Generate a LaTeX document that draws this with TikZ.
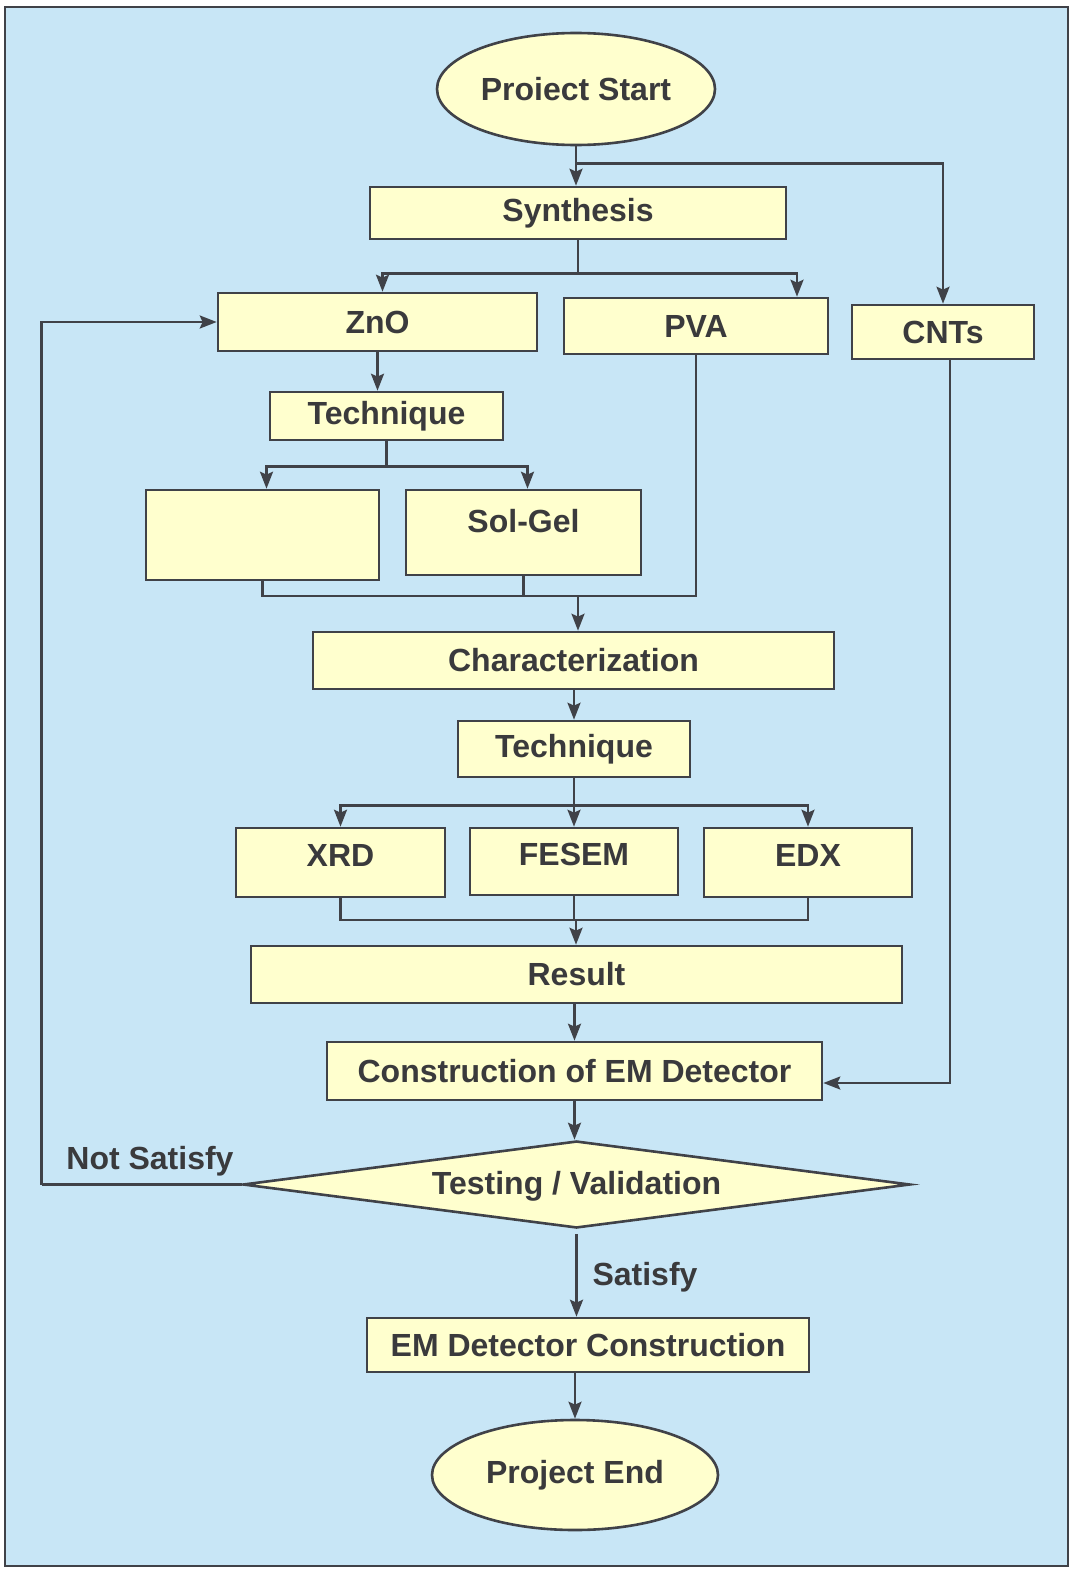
\documentclass[tikz,border=0pt]{standalone}
\usepackage{fontspec}
\setmainfont{Liberation Sans}
\usetikzlibrary{shapes.geometric,arrows.meta}

\definecolor{bgblue}{RGB}{200,230,246}
\definecolor{boxfill}{RGB}{255,255,206}
\definecolor{linegray}{RGB}{64,66,72}
\definecolor{txtgray}{RGB}{58,58,60}

\begin{document}
\begin{tikzpicture}[x=1pt, y=-1pt, line width=2.6pt, color=linegray,
    >={Stealth[length=17pt,width=13pt,inset=3pt]},
    box/.style={draw=linegray, fill=boxfill, inner sep=0pt, line width=2.6pt,
      font=\fontsize{32}{38}\selectfont\bfseries, text=txtgray},
    oval/.style={box, ellipse},
    decide/.style={box, diamond, aspect=7.6},
    note/.style={font=\fontsize{32}{38}\selectfont\bfseries, text=txtgray, inner sep=0pt}]
    \useasboundingbox (0,0) rectangle (1073,1571);
    \fill[white] (0,0) rectangle (1073,1571);
    \draw[fill=bgblue, line width=1.5pt] (5,7) rectangle (1068,1566);

    % blocks
    \node[oval, minimum width=278pt, minimum height=112pt] (start) at (576,89) {Proiect Start};
    \node[box, minimum width=416pt, minimum height=52pt] (synth) at (578,213) {Synthesis};
    \node[box, minimum width=319pt, minimum height=58pt] (zno) at (377.5,322) {ZnO};
    \node[box, minimum width=264pt, minimum height=56pt] (pva) at (696,326) {PVA};
    \node[box, minimum width=182pt, minimum height=54pt] (cnts) at (943,332) {CNTs};
    \node[box, minimum width=233pt, minimum height=48pt] (techA) at (386.5,416) {Technique};
    \node[box, minimum width=233pt, minimum height=90pt] (blank) at (262.5,535) {};
    \node[box, minimum width=235pt, minimum height=85pt, text depth=24pt] (solgel) at (523.5,532.5) {Sol-Gel};
    \node[box, minimum width=521pt, minimum height=57pt] (charz) at (573.5,660.5) {Characterization};
    \node[box, minimum width=232pt, minimum height=56pt] (techB) at (574,749) {Technique};
    \node[box, minimum width=209pt, minimum height=69pt, text depth=14pt] (xrd) at (340.5,862.5) {XRD};
    \node[box, minimum width=208pt, minimum height=67pt, text depth=14pt] (fesem) at (574,861.5) {FESEM};
    \node[box, minimum width=208pt, minimum height=69pt, text depth=14pt] (edx) at (808,862.5) {EDX};
    \node[box, minimum width=651pt, minimum height=57pt] (result) at (576.5,974.5) {Result};
    \node[box, minimum width=495pt, minimum height=58pt] (constr) at (574.5,1071) {Construction of EM Detector};
    \node[decide, minimum width=667pt, minimum height=87pt, text depth=4pt] (test) at (576.5,1184.5) {Testing / Validation};
    \node[box, minimum width=442pt, minimum height=54pt] (emdc) at (588,1345) {EM Detector Construction};
    \node[oval, minimum width=286pt, minimum height=110pt] (finish) at (575,1475) {Project End};

    % labels
    \node[note] (nsat) at (150,1161) {Not Satisfy};
    \node[note] (sat) at (645,1277) {Satisfy};

    % connectors
    \draw[->] (start.south) -- (start.south |- synth.north);
    \draw (start.south) ++(0,17) coordinate (s1);
    \draw[->] (s1) -| (cnts.north);
    \draw (synth.south) -- ++(0,33) coordinate (s2);
    \draw[->] (s2) -| ([xshift=5pt]zno.north);
    \draw[->] (s2) -| ([xshift=101pt]pva.north);
    \draw[->] (zno.south) -- (zno.south |- techA.north);
    \draw (techA.south) -- ++(0,25) coordinate (s3);
    \draw[->] (s3) -| ([xshift=4pt]blank.north);
    \draw[->] (s3) -| ([xshift=4pt]solgel.north);
    \coordinate (m1) at (578,596);
    \draw (blank.south) |- (m1) -| (pva.south);
    \draw (solgel.south) -- (solgel.south |- m1);
    \draw[->] (m1) -- (m1 |- charz.north);
    \draw[->] (charz.south -| techB.north) -- (techB.north);
    \draw (techB.south) -- ++(0,27) coordinate (s4);
    \draw[->] (s4) -| (xrd.north);
    \draw[->] (s4) -- (s4 |- fesem.north);
    \draw[->] (s4) -| (edx.north);
    \coordinate (m2) at (576,920);
    \draw (xrd.south) |- (m2) -| (edx.south);
    \draw (fesem.south) -- (fesem.south |- m2);
    \draw[->] (m2) -- (m2 |- result.north);
    \draw[->] (result.south -| constr.north) -- (constr.north);
    \draw[->] ([xshift=7pt]cnts.south) |- ([yshift=-12pt]constr.east);
    \draw[->] (constr.south) -- (constr.south |- test.north);
    \draw (test.west) -- ++(-200,0) coordinate (l1);
    \draw[->] (l1) |- (zno.west);
    \draw[->] ([yshift=-5pt]test.south) -- (test.south |- emdc.north);
    \draw[->] (emdc.south -| finish.north) -- (finish.north);
\end{tikzpicture}
\end{document}
